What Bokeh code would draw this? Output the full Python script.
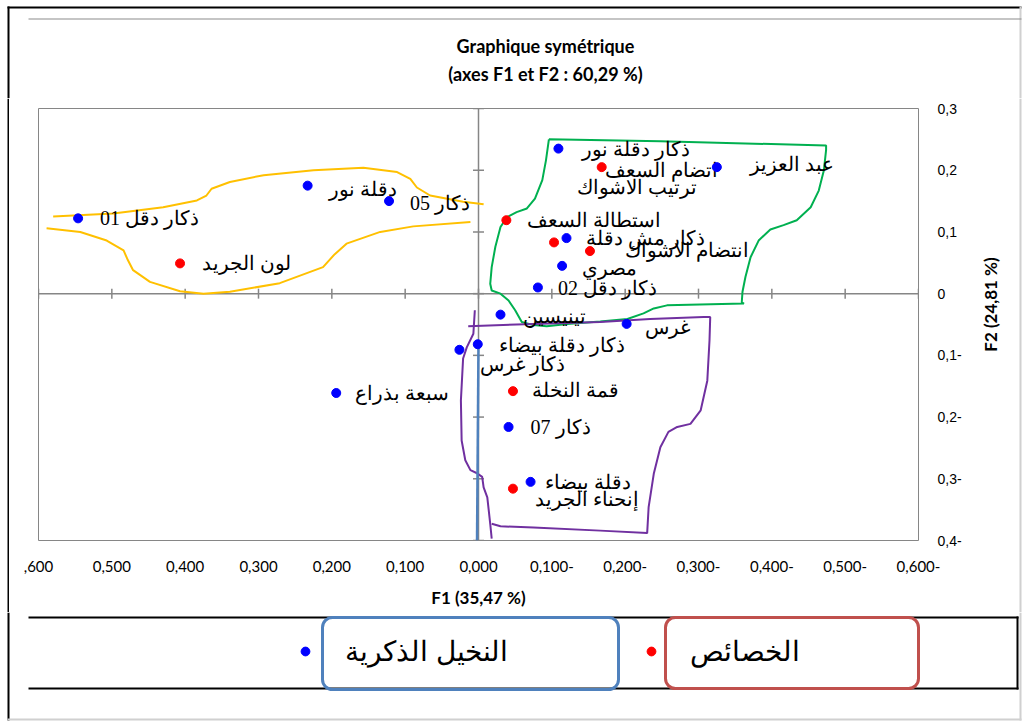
import math
from bokeh.plotting import figure
from bokeh.layouts import column, row
from bokeh.models import (Range1d, FixedTicker, CustomJSTickFormatter, Label,
                          BoxAnnotation, Legend, LegendItem, ColumnDataSource)
from bokeh.core.properties import value
from bokeh.embed import file_html
from bokeh.resources import INLINE

# ---------------- data ----------------
x_ticks = [0.6, 0.5, 0.4, 0.3, 0.2, 0.1, 0.0, -0.1, -0.2, -0.3, -0.4, -0.5, -0.6]
y_ticks = [0.3, 0.2, 0.1, 0.0, -0.1, -0.2, -0.3, -0.4]

male_names = ["ذكار دقل 01", "دقلة نور", "ذكار 05", "ذكار دقلة نور", "عبد العزيز",
              "ذكار مش دقلة", "مصري", "ذكار دقل 02", "تينيسين", "غرس",
              "ذكار دقلة بيضاء", "ذكار غرس", "سبعة بذراع", "ذكار 07", "دقلة بيضاء"]
male_f1 = [0.546, 0.233, 0.122, -0.109, -0.325, -0.120, -0.114, -0.081, -0.030, -0.202,
           0.001, 0.026, 0.194, -0.041, -0.071]
male_f2 = [0.122, 0.175, 0.150, 0.235, 0.205, 0.090, 0.045, 0.010, -0.034, -0.049,
           -0.082, -0.091, -0.161, -0.216, -0.305]

trait_names = ["لون الجريد", "اتضام السعف", "ترتيب الاشواك", "استطالة السعف",
               "انتضام الاشواك", "قمة النخلة", "إنحناء الجريد"]
trait_f1 = [0.407, -0.168, -0.103, -0.038, -0.152, -0.047, -0.047]
trait_f2 = [0.049, 0.205, 0.083, 0.119, 0.069, -0.158, -0.316]

legend_labels = ["النخيل الذكرية", "الخصائص"]
title_lines = ["Graphique symétrique", "(axes F1 et F2 : 60,29 %)"]
x_title = "F1 (35,47 %)"
y_title = "F2 (24,81 %)"

# hand-drawn group outlines (data coordinates F1, F2)
yellow_upper_f1 = [0.580, 0.498, 0.430, 0.384, 0.371, 0.364, 0.339, 0.293, 0.225, 0.157,
                   0.111, 0.093, 0.084, 0.066, 0.021, -0.007]
yellow_upper_f2 = [0.125, 0.130, 0.140, 0.151, 0.159, 0.170, 0.181, 0.192, 0.200, 0.204,
                   0.197, 0.186, 0.172, 0.159, 0.149, 0.145]
yellow_lower_f1 = [0.589, 0.543, 0.507, 0.484, 0.478, 0.471, 0.448, 0.407, 0.375, 0.339,
                   0.271, 0.212, 0.196, 0.180, 0.134, 0.089, 0.011]
yellow_lower_f2 = [0.106, 0.100, 0.086, 0.070, 0.054, 0.038, 0.019, 0.004, 0.000, 0.003,
                   0.017, 0.043, 0.064, 0.081, 0.100, 0.109, 0.116]
green_f1 = [-0.096, -0.248, -0.474, -0.474, -0.471, -0.464, -0.453, -0.434, -0.416, -0.398,
            -0.382, -0.371, -0.364, -0.360, -0.359, -0.362, -0.257, -0.239, -0.225, -0.203,
            -0.166, -0.121, -0.093, -0.075, -0.059, -0.050, -0.041, -0.030, -0.018, -0.016,
            -0.018, -0.023, -0.030, -0.039, -0.052, -0.066, -0.077, -0.087, -0.092, -0.096]
green_f2 = [0.250, 0.247, 0.240, 0.233, 0.200, 0.167, 0.140, 0.119, 0.111, 0.104,
            0.086, 0.059, 0.027, 0.003, -0.014, -0.016, -0.019, -0.024, -0.032, -0.041,
            -0.045, -0.049, -0.053, -0.051, -0.046, -0.027, -0.011, 0.000, 0.005, 0.016,
            0.043, 0.076, 0.108, 0.124, 0.132, 0.138, 0.154, 0.184, 0.216, 0.250]
purple_left_f1 = [0.005, 0.007, 0.016, 0.021, 0.024, 0.023, 0.018, 0.011, 0.002, -0.005,
                  -0.007, -0.012, -0.016, -0.018]
purple_left_f2 = [-0.027, -0.065, -0.087, -0.105, -0.173, -0.238, -0.270, -0.286, -0.291,
                  -0.297, -0.314, -0.330, -0.373, -0.397]
purple_box_f1 = [0.014, -0.075, -0.166, -0.234, -0.307, -0.316, -0.315, -0.312, -0.303,
                 -0.289, -0.271, -0.259, -0.248, -0.239, -0.232, -0.230, -0.166, -0.075,
                 -0.030, -0.018]
purple_box_f2 = [-0.053, -0.049, -0.046, -0.041, -0.038, -0.038, -0.076, -0.141, -0.189,
                 -0.211, -0.216, -0.224, -0.249, -0.292, -0.346, -0.388, -0.384, -0.379,
                 -0.377, -0.373]
blue_line_f1 = [0.000, 0.002]
blue_line_f2 = [-0.076, -0.400]

# label offsets (screen px) for the point labels
male_dx = [22, 21, 21, 24, 33, 19, 20, 20, 22, 18, 21, 21, 19, 22, 14]
male_dy = [0, 3, 2, 0, -3, 0, 2, 1, 1, 3, 1, 14, 0, 0, 0]
trait_dx = [22, 3, 23, 21, 35, 19, 22]
trait_dy = [0, 3, -55, 0, -1, -1, 10]

# ---------------- layout constants (page pixels) ----------------
PAGE_W = 1035
TOP_H, MAIN_H, LEG_H = 98, 514, 110
LEFT_W, RIGHT_W = 9, 63
MAIN_W = PAGE_W - LEFT_W - RIGHT_W          # main figure spans page x 9..972
FRAME_L, FRAME_R, FRAME_T, FRAME_B = 38, 918, 108, 540   # plot area on the page
GRAY = "#868686"


def no_align(f):
    if "frame_align" in f.properties():
        f.frame_align = False
    return f


def blank_fig(w, h, x0, y0):
    f = figure(width=w, height=h, x_range=Range1d(x0, x0 + w),
               y_range=Range1d(y0 + h, y0), output_backend="svg", toolbar_location=None,
               x_axis_location=None, y_axis_location=None, min_border=0,
               outline_line_color=None, background_fill_color="white",
               border_fill_color="white")
    f.xgrid.visible = False
    f.ygrid.visible = False
    return no_align(f)


def bar(f, x0, y0, x1, y1, color):
    f.add_layout(BoxAnnotation(left=x0, right=x1, top=y0, bottom=y1, fill_color=color,
                               fill_alpha=1, line_color=None, level="overlay"))


# ---------------- title strip ----------------
tf = blank_fig(PAGE_W, TOP_H, 0, 0)
bar(tf, 7, 6, 1021, 8, "black")
bar(tf, 7, 6, 9, TOP_H, "black")
bar(tf, 1019, 6, 1021, TOP_H, "#d0d0d0")
bar(tf, 28, 18, 1021, 19, "#8c8c8c")
for txt, ty in zip(title_lines, [45, 73]):
    tf.add_layout(Label(x=545, y=ty, text=txt, text_align="center", text_baseline="middle",
                        text_font="Lato", text_font_style="bold", text_font_size="18px",
                        text_color="black"))

# ---------------- side strips (page border, F2 title) ----------------
ls = blank_fig(LEFT_W, MAIN_H, 0, TOP_H)
bar(ls, 7, TOP_H, 9, TOP_H + MAIN_H, "black")
rs = blank_fig(RIGHT_W, MAIN_H, PAGE_W - RIGHT_W, TOP_H)
bar(rs, 1019, TOP_H, 1021, TOP_H + MAIN_H, "#d0d0d0")
rs.add_layout(Label(x=990, y=304, text=y_title, angle=math.pi / 2, text_align="center",
                    text_baseline="middle", text_font="Lato", text_font_style="bold",
                    text_font_size="17px", text_color="black"))

# ---------------- main chart ----------------
p = figure(width=MAIN_W, height=MAIN_H,
           x_range=Range1d(max(x_ticks), min(x_ticks)),
           y_range=Range1d(min(y_ticks), max(y_ticks)),
           output_backend="svg", toolbar_location=None, y_axis_location="right",
           min_border_left=FRAME_L - LEFT_W,
           min_border_right=LEFT_W + MAIN_W - FRAME_R,
           min_border_top=FRAME_T - TOP_H,
           min_border_bottom=TOP_H + MAIN_H - FRAME_B,
           background_fill_color="white", border_fill_color="white")
no_align(p)
p.outline_line_color = GRAY
p.outline_line_width = 1
p.xgrid.grid_line_color = None
p.ygrid.grid_line_color = None

xfmt = CustomJSTickFormatter(code="""
const a = Math.abs(tick).toFixed(3).replace('.', ',');
return (tick < -1e-9) ? a + '-' : a;
""")
yfmt = CustomJSTickFormatter(code="""
if (Math.abs(tick) < 1e-9) return '0';
const a = Math.abs(tick).toFixed(1).replace('.', ',');
return (tick < 0) ? a + '-' : a;
""")

xa = p.xaxis[0]
xa.ticker = FixedTicker(ticks=x_ticks)
xa.formatter = xfmt
xa.major_label_overrides = {0.6: ",600"}
xa.axis_line_color = None
xa.major_tick_line_color = None
xa.minor_tick_line_color = None
xa.major_label_standoff = 14
xa.major_label_text_font = "Lato"
xa.major_label_text_font_size = "15px"
xa.major_label_text_color = "black"
xa.axis_label = x_title
xa.axis_label_text_font = "Lato"
xa.axis_label_text_font_style = "bold"
xa.axis_label_text_font_size = "17px"
xa.axis_label_text_color = "black"
xa.axis_label_standoff = 12

ya = p.yaxis[0]
ya.ticker = FixedTicker(ticks=y_ticks)
ya.formatter = yfmt
ya.axis_line_color = None
ya.major_tick_line_color = None
ya.minor_tick_line_color = None
ya.major_label_standoff = 13
ya.major_label_text_font = "Liberation Sans"
ya.major_label_text_font_size = "14px"
ya.major_label_text_color = "black"

# cross axes through the origin, with their tick marks
p.segment(x0=[max(x_ticks)], y0=[0], x1=[min(x_ticks)], y1=[0], line_color=GRAY,
          line_width=1.5)
p.segment(x0=[0], y0=[min(y_ticks)], x1=[0], y1=[max(y_ticks)], line_color=GRAY,
          line_width=1.5)
p.scatter(x=x_ticks, y=[0] * len(x_ticks), marker="dash", size=10, angle=math.pi / 2,
          line_color=GRAY, line_width=1.5)
p.scatter(x=[0] * len(y_ticks), y=y_ticks, marker="dash", size=11,
          line_color=GRAY, line_width=1.5)

# group outlines
p.multi_line(xs=[yellow_upper_f1, yellow_lower_f1], ys=[yellow_upper_f2, yellow_lower_f2],
             line_color="#FFC000", line_width=2)
p.line(green_f1, green_f2, line_color="#00B050", line_width=2)
p.multi_line(xs=[purple_left_f1, purple_box_f1], ys=[purple_left_f2, purple_box_f2],
             line_color="#7030A0", line_width=2)
p.line(blue_line_f1, blue_line_f2, line_color="#4F81BD", line_width=2.5)

# points and their labels
male_src = ColumnDataSource(dict(x=male_f1, y=male_f2, name=male_names, dx=male_dx, dy=male_dy))
trait_src = ColumnDataSource(dict(x=trait_f1, y=trait_f2, name=trait_names, dx=trait_dx, dy=trait_dy))
for src in (male_src, trait_src):
    p.text(x="x", y="y", text="name", x_offset="dx", y_offset="dy", source=src,
           text_font=value("Liberation Serif"), text_font_size="20px",
           text_align="left", text_baseline="middle", text_color="black")
p.scatter(x="x", y="y", source=male_src, size=9, fill_color="#0000FF", line_color="#0000FF")
p.scatter(x="x", y="y", source=trait_src, size=9, fill_color="#FF0000", line_color="#FF0000")

# ---------------- legend strip ----------------
Y0 = TOP_H + MAIN_H
lf = blank_fig(PAGE_W, LEG_H, 0, Y0)
bar(lf, 7, Y0, 9, 720, "black")
bar(lf, 1019, Y0, 1021, 720, "#d0d0d0")
bar(lf, 7, 718, 1021, 720, "#d0d0d0")
bar(lf, 28, 616, 1018, 618, "black")
bar(lf, 28, 687, 1018, 689, "black")
bar(lf, 1016, 616, 1018, 689, "black")

nan = float("nan")
proxy_male = lf.scatter(x=[nan], y=[nan], size=9, fill_color="#0000FF", line_color="#0000FF")
proxy_trait = lf.scatter(x=[nan], y=[nan], size=9, fill_color="#FF0000", line_color="#FF0000")

for label, rend, gx, standoff in [(legend_labels[0], proxy_male, 305, 29),
                                  (legend_labels[1], proxy_trait, 651, 28)]:
    lf.add_layout(Legend(items=[LegendItem(label=label, renderers=[rend])],
                         location=(gx - 11, 722 - 668), orientation="horizontal",
                         padding=0, margin=0, spacing=0, glyph_width=22, glyph_height=34,
                         label_height=34, label_standoff=standoff, border_line_color=None,
                         background_fill_alpha=0, label_text_font="Liberation Sans",
                         label_text_font_size="28px", label_text_color="black"))

for (x0, y0, x1, y1, c) in [(322, 617, 618, 689, "#4F81BD"), (665, 617, 918, 688, "#C0504D")]:
    lf.add_layout(BoxAnnotation(left=x0, right=x1, top=y0, bottom=y1, fill_alpha=0,
                                line_color=c, line_alpha=1, line_width=3, border_radius=10,
                                level="overlay"))

layout = column(tf, row(ls, p, rs, spacing=0), lf, spacing=0)
open("out.html", "w").write(file_html(layout, INLINE))
